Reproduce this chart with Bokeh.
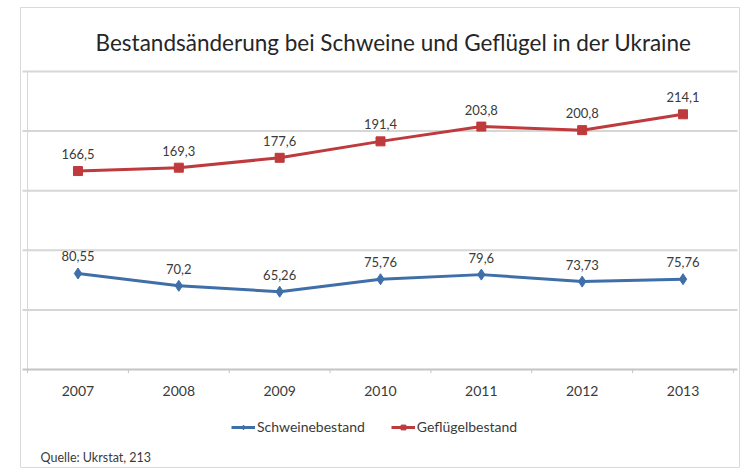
from bokeh.plotting import figure
from bokeh.models import (ColumnDataSource, LabelSet, Range1d, Legend, LegendItem,
                          Label, FactorRange)
from bokeh.core.properties import value
from bokeh.embed import file_html
from bokeh.resources import INLINE

years = ["2007", "2008", "2009", "2010", "2011", "2012", "2013"]
schweine = [80.55, 70.2, 65.26, 75.76, 79.6, 73.73, 75.76]
gefluegel = [166.5, 169.3, 177.6, 191.4, 203.8, 200.8, 214.1]
schweine_labels = ["80,55", "70,2", "65,26", "75,76", "79,6", "73,73", "75,76"]
gefluegel_labels = ["166,5", "169,3", "177,6", "191,4", "203,8", "200,8", "214,1"]
y_ticks = [0, 50, 100, 150, 200, 250]

FONT = "Lato"
BLUE = "#3f6fa8"
RED = "#be3a3c"
GRID = "#d6d6d6"
TXT = "#3a3a3a"

src_s = ColumnDataSource(dict(x=years, y=schweine, lab=schweine_labels))
src_g = ColumnDataSource(dict(x=years, y=gefluegel, lab=gefluegel_labels))
src_years = ColumnDataSource(dict(x=years, y=[0] * len(years), lab=years))

n = len(years)
p = figure(width=740, height=468, title=None,
           x_range=FactorRange(*years, range_padding=0.07, range_padding_units="absolute"),
           y_range=Range1d(-83.05, 303.7),
           output_backend="svg", toolbar_location=None,
           min_border_left=20, min_border_right=0, min_border_top=7, min_border_bottom=0)
p.outline_line_color = "#d9d9d9"
p.outline_line_width = 1
p.background_fill_color = "white"
p.border_fill_color = "white"
p.xaxis.visible = False
p.yaxis.visible = False
p.xgrid.grid_line_color = None
p.ygrid.grid_line_color = None

# horizontal grid lines (from the y tick values) and left axis line
grid_y = y_ticks[1:]
p.segment(x0=[-0.05] * len(grid_y), x1=[n + 0.04] * len(grid_y), y0=grid_y, y1=grid_y,
          line_color=GRID, line_width=2)
p.segment(x0=[0], x1=[0], y0=[y_ticks[0]], y1=[y_ticks[-1]], line_color=GRID, line_width=1)
# x axis line and band boundary ticks
p.segment(x0=[-0.05], x1=[n + 0.04], y0=[0], y1=[0], line_color="#c4c4c4", line_width=2)
p.segment(x0=list(range(n + 1)), x1=list(range(n + 1)), y0=[0] * (n + 1), y1=[-3] * (n + 1),
          line_color="#c4c4c4", line_width=1)

p.add_layout(LabelSet(x="x", y="y", text="lab", source=src_years, y_offset=-21,
                      text_align="center", text_baseline="middle",
                      text_font=value(FONT), text_font_size="14px", text_color=TXT))

rs_l = p.line("x", "y", source=src_s, line_color=BLUE, line_width=3)
rs_m = p.scatter("x", "y", source=src_s, marker="diamond", size=11,
                 fill_color=BLUE, line_color=BLUE)
rg_l = p.line("x", "y", source=src_g, line_color=RED, line_width=3)
rg_m = p.scatter("x", "y", source=src_g, marker="square", size=9,
                 fill_color=RED, line_color=RED)

for s in (src_s, src_g):
    p.add_layout(LabelSet(x="x", y="y", text="lab", source=s, y_offset=12,
                          text_align="center", text_baseline="bottom",
                          text_font=value(FONT), text_font_size="13px", text_color=TXT))

p.add_layout(Label(x=373, y=426, x_units="screen", y_units="screen",
                   text="Bestandsänderung bei Schweine und Geflügel in der Ukraine",
                   text_align="center", text_baseline="alphabetic",
                   text_font=FONT, text_font_size="22.5px", text_color="#262626"))

legend = Legend(items=[LegendItem(label="Schweinebestand", renderers=[rs_l, rs_m]),
                       LegendItem(label="Geflügelbestand", renderers=[rg_l, rg_m])],
                orientation="horizontal", location=(211, 33),
                label_text_font=FONT, label_text_font_size="14px", label_text_color=TXT,
                glyph_width=24, glyph_height=12, label_standoff=2, spacing=26,
                padding=0, margin=0, border_line_color=None, background_fill_alpha=0)
p.add_layout(legend)

p.add_layout(Label(x=20, y=11, x_units="screen", y_units="screen",
                   text="Quelle: Ukrstat, 213", text_baseline="middle",
                   text_font=FONT, text_font_size="12.5px", text_color=TXT))

open("out.html", "w").write(file_html(p, INLINE))
